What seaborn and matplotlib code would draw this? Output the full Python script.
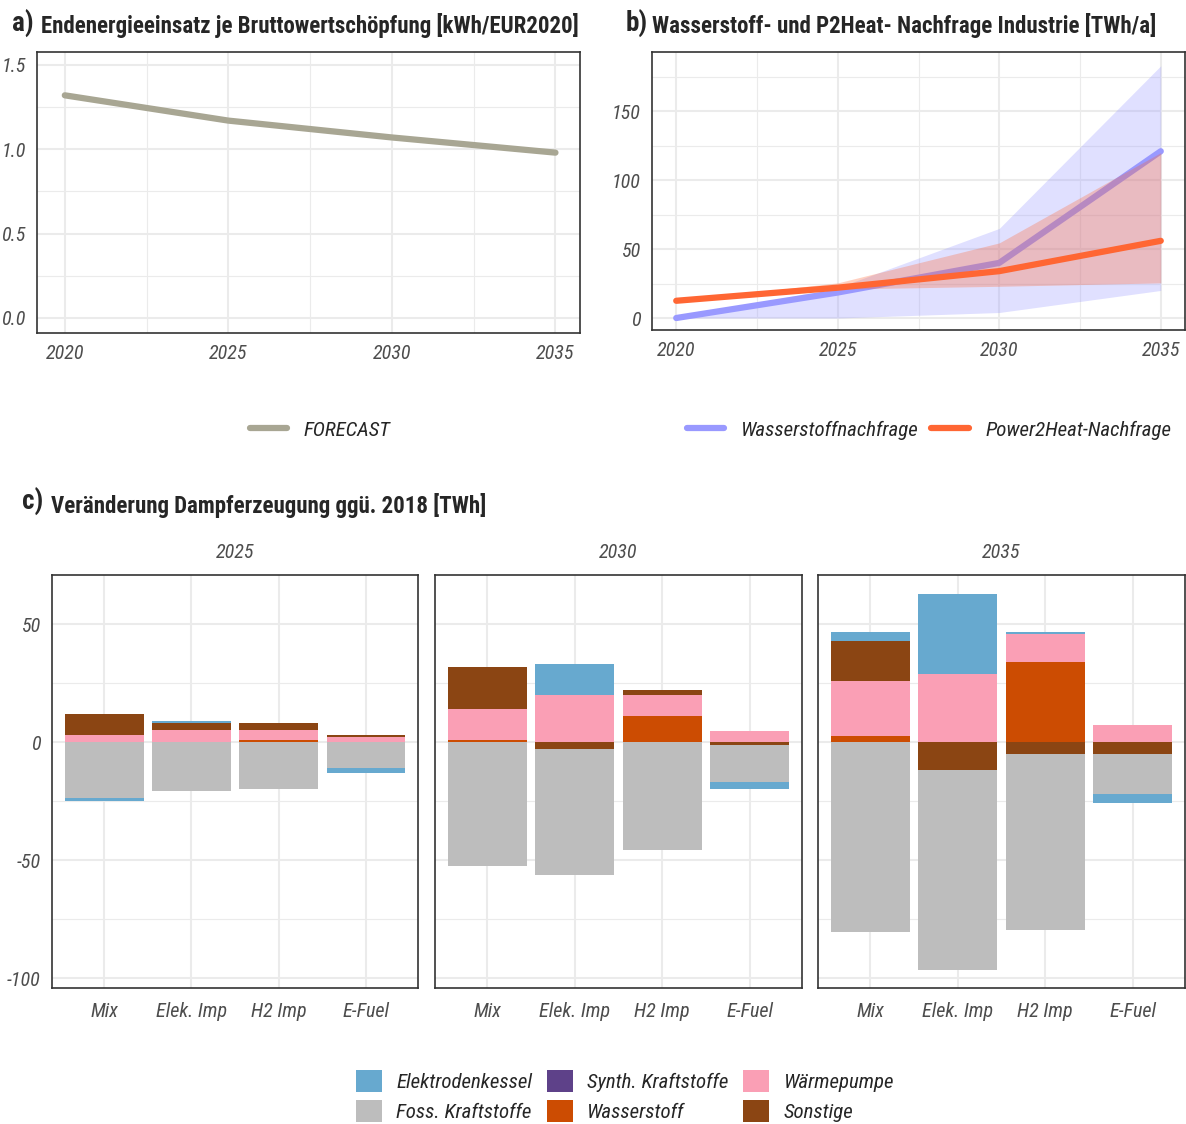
import numpy as np
import pandas as pd
import seaborn as sns
import matplotlib.pyplot as plt
from matplotlib import font_manager
from matplotlib.patches import Patch
from matplotlib.lines import Line2D
from matplotlib.ticker import FixedLocator

# panel a
years = [2020, 2025, 2030, 2035]
forecast = [1.32, 1.17, 1.07, 0.98]

# panel b
h2_demand = [0, 18.5, 40, 121]
h2_low = [0, 0, 4, 20]
h2_high = [0, 22, 65, 183]
p2h_demand = [12.5, 22, 34, 56]
p2h_low = [12.5, 21, 23, 25.5]
p2h_high = [12.5, 25.5, 54.5, 120]

# panel c  (values per scenario: Mix, Elek. Imp, H2 Imp, E-Fuel)
scenarios = ["Mix", "Elek. Imp", "H2 Imp", "E-Fuel"]
c_years = [2025, 2030, 2035]
elektrodenkessel = {2025: [-1.0, 0.8, 0, -2.0], 2030: [0, 13.0, 0, -3.0], 2035: [4.0, 33.9, 1.0, -3.8]}
foss = {2025: [-23.9, -20.8, -19.8, -10.9], 2030: [-52.7, -53.4, -45.6, -15.7], 2035: [-80.6, -84.6, -74.7, -16.9]}
synth = {2025: [0, 0, 0, 0], 2030: [0, 0, 0, 0], 2035: [0, 0, 0, 0]}
wasserstoff = {2025: [0, 0, 1.0, 0], 2030: [1.0, 0, 11.0, 0], 2035: [2.4, 0, 33.9, 0]}
waermepumpe = {2025: [3.0, 5.2, 4.1, 2.0], 2030: [13.0, 19.9, 8.9, 4.9], 2035: [23.6, 29.0, 11.9, 7.1]}
sonstige = {2025: [8.8, 2.8, 3.0, 0.8], 2030: [17.8, -3.1, 2.0, -1.1], 2035: [16.8, -12.0, -4.9, -4.9]}

tech_names = ["Elektrodenkessel", "Foss. Kraftstoffe", "Synth. Kraftstoffe", "Wasserstoff", "Wärmepumpe", "Sonstige"]
tech_colors = ["#67A9CF", "#BDBDBD", "#5E4189", "#CC4C02", "#FA9FB5", "#8B4513"]
tech_data = [elektrodenkessel, foss, synth, wasserstoff, waermepumpe, sonstige]
# stacking order from zero outwards
stack_order = ["Wasserstoff", "Wärmepumpe", "Synth. Kraftstoffe", "Sonstige", "Foss. Kraftstoffe", "Elektrodenkessel"]

sns.set_theme(style="white")
names = {f.name for f in font_manager.fontManager.ttflist}
base_font = "Lato"
for cand in ["Liberation Sans Narrow", "Roboto Condensed", "Open Sans Condensed", "Lato"]:
    if cand in names:
        base_font = cand
        break
plt.rcParams["font.family"] = [base_font, "DejaVu Sans"]

grid_col = "#EBEBEB"
frame_col = "#333333"
tick_col = "#4D4D4D"
FS = 14.5


def style_axis(ax, pad=4):
    for s in ax.spines.values():
        s.set_color(frame_col)
        s.set_linewidth(1.2)
    ax.tick_params(axis="both", direction="out", length=4, width=1.1, color=frame_col,
                   labelsize=FS, labelcolor=tick_col, pad=pad)
    for lab in ax.get_xticklabels() + ax.get_yticklabels():
        lab.set_fontstyle("italic")
    ax.grid(True, which="major", color=grid_col, linewidth=1.5)
    ax.grid(True, which="minor", color=grid_col, linewidth=0.8)
    ax.set_axisbelow(True)
    ax.set_xlabel("")
    ax.set_ylabel("")


W, H = 1186, 1124
fig = plt.figure(figsize=(W / 100, H / 100), dpi=100)


def rect(x0, y0, x1, y1):
    return [x0 / W, 1 - y1 / H, (x1 - x0) / W, (y1 - y0) / H]


# ---- panel a
ax_a = fig.add_axes(rect(37, 52, 580, 333))
df_a = pd.DataFrame({"year": years, "value": forecast})
sns.lineplot(data=df_a, x="year", y="value", color="#A8A693", linewidth=4.5, ax=ax_a)
ax_a.set_xlim(2019.15, 2035.75)
ax_a.set_ylim(-0.09, 1.577)
ax_a.xaxis.set_major_locator(FixedLocator(years))
ax_a.xaxis.set_minor_locator(FixedLocator([2022.5, 2027.5, 2032.5]))
ax_a.yaxis.set_minor_locator(FixedLocator([0.25, 0.75, 1.25]))
ax_a.set_yticks([0, 0.5, 1.0, 1.5])
ax_a.set_yticklabels(["0.0", "0.5", "1.0", "1.5"])
ax_a.tick_params(which="minor", length=0)
style_axis(ax_a)

# ---- panel b
ax_b = fig.add_axes(rect(652, 52, 1185, 330))
ax_b.fill_between(years, h2_low, h2_high, color="#9999FF", alpha=0.3, linewidth=0, zorder=1)
df_b = pd.DataFrame({"year": years * 2,
                     "value": h2_demand + p2h_demand,
                     "series": ["Wasserstoffnachfrage"] * 4 + ["Power2Heat-Nachfrage"] * 4})
sns.lineplot(data=df_b[df_b.series == "Wasserstoffnachfrage"], x="year", y="value",
             color="#9999FF", linewidth=4.5, ax=ax_b, zorder=2)
ax_b.fill_between(years, p2h_low, p2h_high, color="#FF6633", alpha=0.3, linewidth=0, zorder=3)
sns.lineplot(data=df_b[df_b.series == "Power2Heat-Nachfrage"], x="year", y="value",
             color="#FF6633", linewidth=4.5, ax=ax_b, zorder=4)
ax_b.set_xlim(2019.25, 2035.75)
ax_b.set_ylim(-8.7, 193)
ax_b.xaxis.set_major_locator(FixedLocator(years))
ax_b.xaxis.set_minor_locator(FixedLocator([2022.5, 2027.5, 2032.5]))
ax_b.yaxis.set_major_locator(FixedLocator([0, 50, 100, 150]))
ax_b.yaxis.set_minor_locator(FixedLocator([25, 75, 125, 175]))
ax_b.tick_params(which="minor", length=0)
style_axis(ax_b)

# titles
TS = 16.5
fig.text(12 / W, 1 - 24 / H, "a)", fontsize=19.5, fontweight="bold", va="center", ha="left")
fig.text(41 / W, 1 - 25 / H, "Endenergieeinsatz je Bruttowertschöpfung [kWh/EUR2020]",
         fontsize=TS, fontweight="bold", va="center", ha="left")
fig.text(626 / W, 1 - 24 / H, "b)", fontsize=19.5, fontweight="bold", va="center", ha="left")
fig.text(652 / W, 1 - 25 / H, "Wasserstoff- und P2Heat- Nachfrage Industrie [TWh/a]",
         fontsize=TS, fontweight="bold", va="center", ha="left")
fig.text(22 / W, 1 - 502 / H, "c)", fontsize=19.5, fontweight="bold", va="center", ha="left")
fig.text(51 / W, 1 - 505 / H, "Veränderung Dampferzeugung ggü. 2018 [TWh]",
         fontsize=TS, fontweight="bold", va="center", ha="left")

# legends a / b
fig.legend(handles=[Line2D([], [], color="#A8A693", linewidth=4.5, label="FORECAST")],
           loc="center", bbox_to_anchor=(320 / W, 1 - 430 / H), frameon=False,
           handlelength=1.8, handletextpad=0.8, prop={"size": FS + 0.5, "style": "italic"})
fig.legend(handles=[Line2D([], [], color="#9999FF", linewidth=4.5, label="Wasserstoffnachfrage"),
                    Line2D([], [], color="#FF6633", linewidth=4.5, label="Power2Heat-Nachfrage")],
           loc="center", bbox_to_anchor=(929 / W, 1 - 430 / H), frameon=False, ncol=2,
           handlelength=1.8, handletextpad=0.8, columnspacing=0.6,
           prop={"size": FS + 0.5, "style": "italic"})

# ---- panel c
rows = []
for yr in c_years:
    for name, d in zip(tech_names, tech_data):
        for sc, v in zip(scenarios, d[yr]):
            rows.append({"year": yr, "scenario": sc, "tech": name, "value": v})
df_c = pd.DataFrame(rows)
color_of = dict(zip(tech_names, tech_colors))

facet_x = [(52, 418), (435, 802), (818, 1185)]
for i, yr in enumerate(c_years):
    x0, x1 = facet_x[i]
    ax = fig.add_axes(rect(x0, 575, x1, 988))
    sub = df_c[df_c.year == yr].pivot(index="scenario", columns="tech", values="value").loc[scenarios]
    pos = sub.clip(lower=0)[stack_order].cumsum(axis=1)
    neg = sub.clip(upper=0)[stack_order].cumsum(axis=1)
    # draw outermost cumulative first so inner segments paint over
    for cum in (pos, neg):
        for tech in stack_order[::-1]:
            d = pd.DataFrame({"scenario": scenarios, "value": cum[tech].values})
            sns.barplot(data=d, x="scenario", y="value", order=scenarios, color=color_of[tech],
                        saturation=1, width=0.9, errorbar=None, linewidth=0, ax=ax)
    ax.set_xlim(-0.6, 3.6)
    ax.set_ylim(-104.2, 70.8)
    ax.yaxis.set_minor_locator(FixedLocator([-75, -25, 25]))
    ax.tick_params(which="minor", length=0)
    style_axis(ax, pad=6)
    ax.set_yticks([-100, -50, 0, 50])
    if i == 0:
        ax.set_yticklabels(["-100", "-50", "0", "50"], fontstyle="italic")
        ax.tick_params(axis="y", pad=4)
    else:
        ax.set_yticklabels([])
        ax.tick_params(axis="y", length=0)
    ax.set_xticks(range(4))
    ax.set_xticklabels(scenarios, fontstyle="italic")
    ax.xaxis.grid(True, which="major", color=grid_col, linewidth=1.5)
    fig.text((x0 + x1) / 2 / W, 1 - 553 / H, str(yr), fontsize=FS, style="italic",
             color=tick_col, ha="center", va="center")

handles = [Patch(facecolor=c, edgecolor="none", label=n) for n, c in zip(tech_names, tech_colors)]
fig.legend(handles=handles, loc="center", bbox_to_anchor=(625 / W, 1 - 1096 / H), ncol=3,
           frameon=False, handlelength=1.25, handleheight=1.25, handletextpad=0.7,
           columnspacing=0.7, labelspacing=0.35, prop={"size": FS + 0.5, "style": "italic"})

fig.savefig("out.png", dpi=100)
